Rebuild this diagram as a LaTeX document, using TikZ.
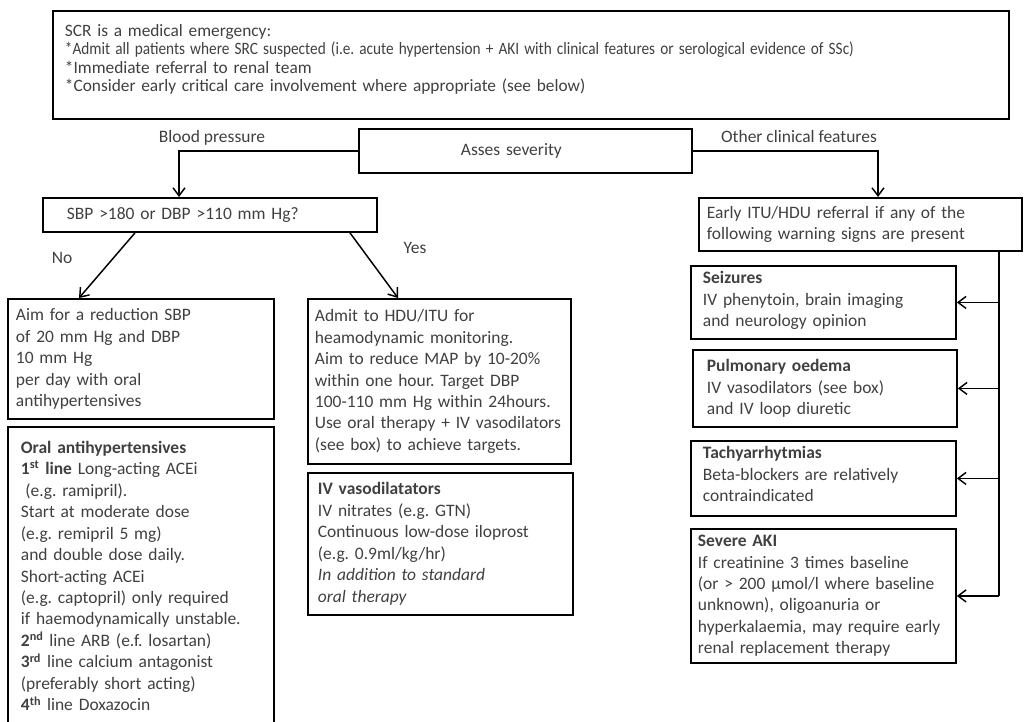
\documentclass[tikz,border=0pt]{standalone}
\usepackage{fontspec}
\setmainfont{Carlito}
\usetikzlibrary{arrows.meta,positioning}
\definecolor{txt}{HTML}{404040}
\newcommand{\fsz}[1]{\fontsize{#1}{16.1}\selectfont}
\newcommand{\topfont}{\fontsize{13}{13.9}\selectfont}
\frenchspacing

\begin{document}
\begin{tikzpicture}[x=0.75pt, y=-0.75pt,
    box/.style={draw, line width=1.4pt, anchor=north west, align=left,
                inner ysep=0pt, font=\fsz{13.1}, text=txt},
    lbl/.style={font=\fsz{13.1}, text=txt, inner sep=0pt},
    arr/.style={-{Straight Barb[length=6pt, width=9pt]}, line width=1.1pt},
    line/.style={line width=1.1pt},
  ]
  \useasboundingbox (0,0) rectangle (1024,721);

  % header and severity
  \node[box, font=\topfont, text width=699pt, inner xsep=9pt, minimum height=81pt] (top) at (52,10)
    {SCR is a medical emergency:\\
     \resizebox{591.75pt}{\height}{{*}Admit all patients where SRC suspected (i.e. acute hypertension + AKI with clinical features or serological evidence of SSc)}\\
     {*}Immediate referral to renal team\\
     {*}Consider early critical care involvement where appropriate (see below)\par\vspace{8.5pt}};
  \node[box, text width=96.75pt, inner xsep=76.5pt, minimum height=33pt] (asses) at (358,128) {Asses severity};

  % blood pressure branch
  \node[box, text width=214.5pt, inner xsep=18pt, minimum height=25.5pt] (sbp) at (42,197) {SBP >180 or DBP >110 mm Hg?};
  \node[box, text width=187.5pt, inner xsep=6pt, minimum height=90pt] (aim) at (7,298)
    {Aim for a reduction SBP\\ of 20 mm Hg and DBP\\ 10 mm Hg\\ per day with oral\\ antihypertensives};
  \node[box, text width=180pt, inner xsep=9.75pt, minimum height=223.5pt] (oral) at (7,426)
    {\textbf{Oral antihypertensives}\\
     \textbf{1\textsuperscript{st} line} Long-acting ACEi\\
     \hspace*{0.25em}(e.g. ramipril).\\
     Start at moderate dose\\
     (e.g. remipril 5 mg)\\
     and double dose daily.\\
     Short-acting ACEi\\
     (e.g. captopril) only required\\
     if haemodynamically unstable.\\
     \textbf{2\textsuperscript{nd}} line ARB (e.f. losartan)\\
     \textbf{3\textsuperscript{rd}} line calcium antagonist\\
     (preferably short acting)\\
     \textbf{4\textsuperscript{th}} line Doxazocin};
  \node[box, text width=186.75pt, inner xsep=5.25pt, minimum height=123.75pt] (admit) at (307,298)
    {Admit to HDU/ITU for\\ heamodynamic monitoring.\\ Aim to reduce MAP by 10-20\%\\ within one hour. Target DBP\\
     100-110 mm Hg within 24hours.\\ Use oral therapy + IV vasodilators\\ (see box) to achieve targets.};
  \node[box, text width=183.75pt, inner xsep=7.5pt, minimum height=106.5pt] (iv) at (307,472)
    {\textbf{IV vasodilatators}\\ IV nitrates (e.g. GTN)\\ Continuous low-dose iloprost\\ (e.g. 0.9ml/kg/hr)\\
     \textit{In addition to standard}\\ \textit{oral therapy}};

  % other clinical features branch
  \node[box, text width=230.25pt, inner xsep=6pt, minimum height=39.75pt] (itu) at (698,197)
    {Early ITU/HDU referral if any of the\\ following warning signs are present};
  \node[box, text width=180.75pt, inner xsep=9pt, minimum height=54.75pt] (seiz) at (690,265)
    {\textbf{Seizures}\\ IV phenytoin, brain imaging\\ and neurology opinion\par\vspace{3pt}};
  \node[box, text width=177pt, inner xsep=10.5pt, minimum height=57.75pt] (pulm) at (692,349)
    {\textbf{Pulmonary oedema}\\ IV vasodilators (see box)\\ and IV loop diuretic};
  \node[box, text width=180.75pt, inner xsep=9pt, minimum height=56.25pt] (tachy) at (690,440)
    {\textbf{Tachyarrhytmias}\\ Beta-blockers are relatively\\ contraindicated\par\vspace{6.75pt}};
  \node[box, text width=188.25pt, inner xsep=5.25pt, minimum height=100.5pt] (aki) at (690,528)
    {\textbf{Severe AKI}\\ If creatinine 3 times baseline\\ (or > 200 µmol/l where baseline\\ unknown), oligoanuria or\\
     hyperkalaemia, may require early\\ renal replacement therapy};

  % branch labels
  \node[lbl] (bplbl) at (212,138) {Blood pressure};
  \node[lbl] (oclbl) at (799,136) {Other clinical features};
  \node[lbl] (nolbl) at (62,258) {No};
  \node[lbl] (yeslbl) at (415,248) {Yes};

  % connectors
  \draw[arr] (asses.west) -| ([xshift=102.75pt]sbp.north west);
  \draw[arr] (asses.east) -| ([xshift=135pt]itu.north west);
  \draw[arr] ([xshift=69.75pt]sbp.south west) -- ([xshift=54pt]aim.north west);
  \draw[arr] ([xshift=231pt]sbp.south west) -- ([xshift=68.25pt]admit.north west);
  \coordinate (bus) at ([xshift=-18pt]itu.south east);
  \draw[line] (bus) -- (bus |- aki.east);
  \foreach \b in {seiz,pulm,tachy,aki}
    \draw[arr] (bus |- \b.east) -- (\b.east);
\end{tikzpicture}
\end{document}
